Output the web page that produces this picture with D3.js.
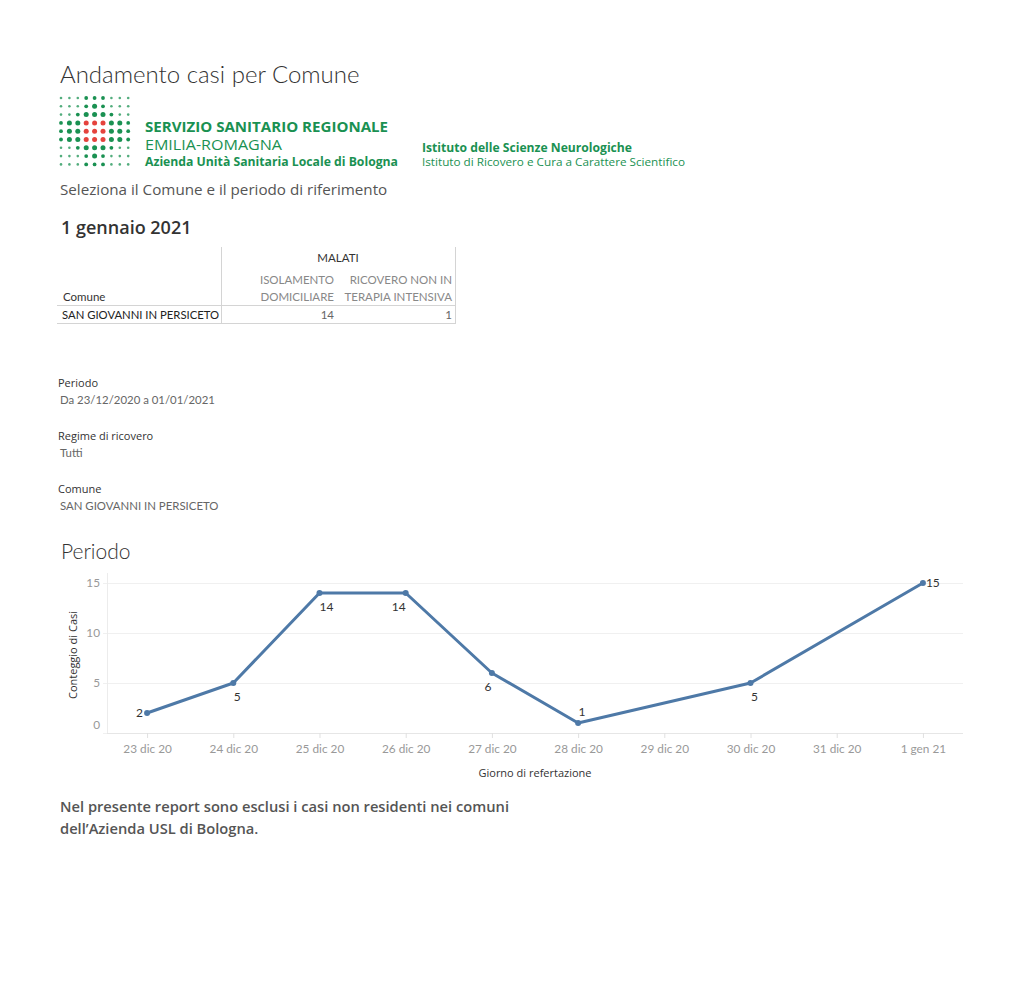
<!DOCTYPE html>
<html>
<head>
<meta charset="utf-8">
<script src="https://cdn.jsdelivr.net/npm/d3@7"></script>
<style>
  html, body { margin: 0; padding: 0; background: #fff; }
  svg { display: block; font-family: Lato, "Open Sans", sans-serif; }
</style>
</head>
<body>
<svg id="page" width="1020" height="997"></svg>
<script>
// ---------- DATA ----------
const days = ["23 dic 20","24 dic 20","25 dic 20","26 dic 20","27 dic 20","28 dic 20","29 dic 20","30 dic 20","31 dic 20","1 gen 21"];
const pointDays = ["23 dic 20","24 dic 20","25 dic 20","26 dic 20","27 dic 20","28 dic 20","30 dic 20","1 gen 21"];
const counts = [2, 5, 14, 14, 6, 1, 5, 15];
const yTicks = [0, 5, 10, 15];

const tableColumns = [["ISOLAMENTO", "DOMICILIARE"], ["RICOVERO NON IN", "TERAPIA INTENSIVA"]];
const tableRowLabel = "SAN GIOVANNI IN PERSICETO";
const tableValues = [14, 1];

const filterNames = ["Periodo", "Regime di ricovero", "Comune"];
const filterValues = ["Da 23/12/2020 a 01/01/2021", "Tutti", "SAN GIOVANNI IN PERSICETO"];

// logo dot pattern (1 small, 2 medium, 3 large, 4 red large)
const logoDots = [
  [1,1,1,2,2,2,1,1,1],
  [1,1,1,2,3,2,1,1,1],
  [1,1,2,3,3,3,2,1,1],
  [2,3,3,4,4,4,3,3,2],
  [2,3,3,4,4,4,3,3,2],
  [2,3,3,4,4,4,3,3,2],
  [1,1,2,3,3,3,2,1,1],
  [1,1,1,2,3,2,1,1,1],
  [1,1,1,2,2,2,1,1,1]
];

const OS = "'Open Sans', sans-serif";

// ---------- PAGE ----------
const svg = d3.select("#page");
svg.append("rect").attr("width", 1020).attr("height", 997).attr("fill", "#fff");

svg.append("text").attr("x", 60).attr("y", 83)
  .attr("font-size", 24).attr("font-weight", 300).attr("fill", "#333")
  .text("Andamento casi per Comune");

// logo
const green = "#1a9152", red = "#e5433d";
const rad = {1: 1.3, 2: 1.9, 3: 2.5, 4: 2.5};
const logo = svg.append("g").attr("transform", "translate(61,98)");
logoDots.forEach((row, i) => row.forEach((v, j) => {
  logo.append("circle").attr("cx", j * 8.4).attr("cy", i * 8.3).attr("r", rad[v])
    .attr("fill", v === 4 ? red : green).attr("opacity", v === 1 ? 0.75 : 1);
}));
const lt = svg.append("g").attr("fill", green).attr("font-family", OS);
lt.append("text").attr("x", 145).attr("y", 132).attr("font-size", 15).attr("font-weight", 700)
  .attr("textLength", 243).attr("lengthAdjust", "spacingAndGlyphs").text("SERVIZIO SANITARIO REGIONALE");
lt.append("text").attr("x", 145).attr("y", 150).attr("font-size", 15)
  .attr("textLength", 137).attr("lengthAdjust", "spacingAndGlyphs").text("EMILIA-ROMAGNA");
lt.append("text").attr("x", 145).attr("y", 166).attr("font-size", 12.5).attr("font-weight", 700)
  .attr("textLength", 253).attr("lengthAdjust", "spacingAndGlyphs").text("Azienda Unità Sanitaria Locale di Bologna");
lt.append("text").attr("x", 422).attr("y", 152).attr("font-size", 11.5).attr("font-weight", 700)
  .attr("textLength", 210).attr("lengthAdjust", "spacingAndGlyphs").text("Istituto delle Scienze Neurologiche");
lt.append("text").attr("x", 422).attr("y", 166).attr("font-size", 11)
  .attr("textLength", 263).attr("lengthAdjust", "spacingAndGlyphs").text("Istituto di Ricovero e Cura a Carattere Scientifico");

svg.append("text").attr("x", 60).attr("y", 195).attr("font-size", 15.2).attr("fill", "#555")
  .attr("font-family", OS).text("Seleziona il Comune e il periodo di riferimento");

svg.append("text").attr("x", 61).attr("y", 234).attr("font-size", 18).attr("font-weight", 600).attr("fill", "#333")
  .attr("font-family", OS).text("1 gennaio 2021");

// ---------- TABLE ----------
const tb = svg.append("g").attr("font-size", 11.5);
const colRight = [334, 452];
tb.append("line").attr("x1", 221.5).attr("x2", 221.5).attr("y1", 247).attr("y2", 323).attr("stroke", "#d4d4d4");
tb.append("line").attr("x1", 455.5).attr("x2", 455.5).attr("y1", 247).attr("y2", 323).attr("stroke", "#d4d4d4");
tb.append("line").attr("x1", 57).attr("x2", 456).attr("y1", 305.5).attr("y2", 305.5).attr("stroke", "#d4d4d4");
tb.append("line").attr("x1", 57).attr("x2", 456).attr("y1", 323.5).attr("y2", 323.5).attr("stroke", "#d4d4d4");
tb.append("text").attr("x", 338).attr("y", 262).attr("text-anchor", "middle").attr("fill", "#333").text("MALATI");
tableColumns.forEach((lines, i) => {
  lines.forEach((l, k) => {
    tb.append("text").attr("x", colRight[i]).attr("y", 284 + k * 17).attr("text-anchor", "end")
      .attr("fill", "#888").text(l);
  });
  tb.append("text").attr("x", colRight[i]).attr("y", 319).attr("text-anchor", "end")
    .attr("fill", "#666").text(tableValues[i]);
});
tb.append("text").attr("x", 63).attr("y", 301).attr("fill", "#333").text("Comune");
tb.append("text").attr("x", 62).attr("y", 319).attr("fill", "#222").attr("font-size", 11.3).text(tableRowLabel);

// ---------- FILTERS ----------
const fl = svg.append("g");
filterNames.forEach((n, i) => {
  fl.append("text").attr("x", 58).attr("y", 387 + i * 53).attr("fill", "#333")
    .attr("font-family", OS).attr("font-size", 11).text(n);
  fl.append("text").attr("x", 60).attr("y", 404 + i * 53).attr("fill", "#666")
    .attr("font-size", 11.4).text(filterValues[i]);
});

// ---------- CHART ----------
svg.append("text").attr("x", 61).attr("y", 559).attr("font-size", 21).attr("font-weight", 300).attr("fill", "#333")
  .text("Periodo");

const x = d3.scalePoint().domain(days).range([107, 963]).padding(0.465);
const y = d3.scaleLinear().domain([0, 16]).range([733, 573]);

const ch = svg.append("g");
// gridlines
ch.selectAll("line.grid").data(yTicks.filter(t => t > 0)).join("line")
  .attr("x1", 103).attr("x2", 963).attr("y1", d => y(d) + 0.5).attr("y2", d => y(d) + 0.5)
  .attr("stroke", "#f0f0f0");
// baseline and y axis line
ch.append("line").attr("x1", 107).attr("x2", 963).attr("y1", y(0) + 0.5).attr("y2", y(0) + 0.5).attr("stroke", "#e6e6e6");
ch.append("line").attr("x1", 107.5).attr("x2", 107.5).attr("y1", 573).attr("y2", 733).attr("stroke", "#ececec");

// x axis
const xAxis = ch.append("g").attr("transform", `translate(0,${y(0)})`)
  .call(d3.axisBottom(x).tickSize(5).tickPadding(7));
xAxis.select(".domain").remove();
xAxis.selectAll(".tick line").attr("stroke", "#e0e0e0");
xAxis.selectAll(".tick text").attr("fill", "#999").attr("font-size", 11.8).attr("font-family", "Lato, sans-serif");

// y axis
const yAxis = ch.append("g").attr("transform", "translate(107,0)")
  .call(d3.axisLeft(y).tickValues(yTicks).tickSize(4).tickPadding(3));
yAxis.select(".domain").remove();
yAxis.selectAll(".tick line").attr("stroke", "#f0f0f0");
yAxis.selectAll(".tick text").attr("fill", "#999").attr("font-size", 11.8).attr("font-family", "Lato, sans-serif")
  .attr("dy", d => d === 0 ? "-0.4em" : "0.32em");

// axis titles
ch.append("text").attr("transform", "translate(77,655) rotate(-90)").attr("text-anchor", "middle")
  .attr("font-family", OS).attr("font-size", 11).attr("fill", "#333").text("Conteggio di Casi");
ch.append("text").attr("x", 535).attr("y", 777).attr("text-anchor", "middle")
  .attr("font-family", OS).attr("font-size", 11).attr("fill", "#333").text("Giorno di refertazione");

// line
const pts = pointDays.map((d, i) => ({day: d, v: counts[i], i}));
ch.append("path").datum(pts)
  .attr("d", d3.line().x(d => x(d.day)).y(d => y(d.v)))
  .attr("fill", "none").attr("stroke", "#4e79a7").attr("stroke-width", 3).attr("stroke-linejoin", "round");
ch.selectAll("circle.pt").data(pts).join("circle")
  .attr("cx", d => x(d.day)).attr("cy", d => y(d.v)).attr("r", 3).attr("fill", "#4e79a7");

// labels
ch.selectAll("text.lbl").data(pts).join("text")
  .attr("font-size", 12).attr("fill", "#333")
  .each(function(d) {
    const t = d3.select(this);
    const px = x(d.day), py = y(d.v);
    const prev = d.i > 0 ? d.v - pts[d.i - 1].v : null;
    const next = d.i < pts.length - 1 ? pts[d.i + 1].v - d.v : null;
    if (prev === null) {
      t.attr("x", px - 4).attr("y", py + 4).attr("text-anchor", "end");
    } else if (next === null) {
      t.attr("x", px + 3).attr("y", py + 4).attr("text-anchor", "start");
    } else if (prev < 0 && next > 0) {
      t.attr("x", px + 4).attr("y", py - 7).attr("text-anchor", "middle");
    } else {
      const dir = (prev !== 0 ? prev : next) > 0 ? 1 : -1;
      const k = (prev === 0 || next === 0) ? 7 : 4;
      t.attr("x", px + dir * k).attr("y", py + 18).attr("text-anchor", "middle");
    }
    t.text(d.v);
  });

// ---------- FOOTNOTE ----------
const fn = svg.append("g").attr("font-family", OS).attr("font-size", 14.7).attr("font-weight", 600).attr("fill", "#555");
fn.append("text").attr("x", 60).attr("y", 812).text("Nel presente report sono esclusi i casi non residenti nei comuni");
fn.append("text").attr("x", 60).attr("y", 834).text("dell\u2019Azienda USL di Bologna.");
</script>
</body>
</html>
